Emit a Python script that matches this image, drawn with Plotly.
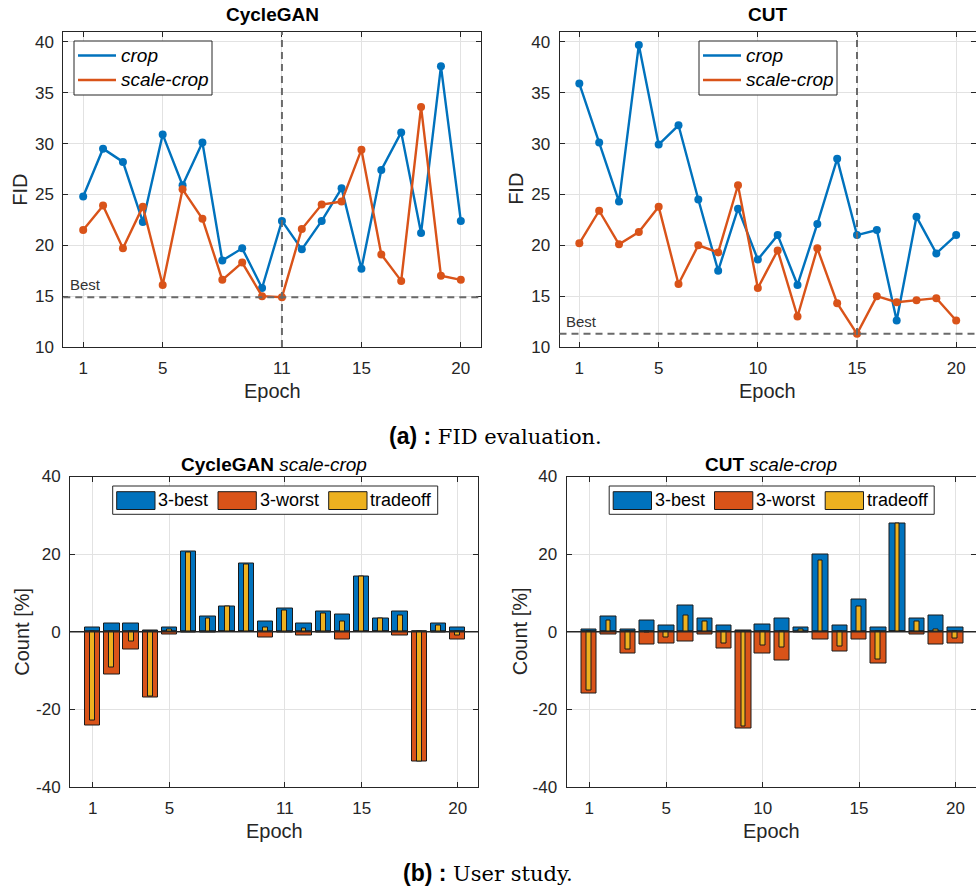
import plotly.graph_objects as go

# ---------------- data ----------------
epochs = list(range(1, 21))

cyclegan_crop = [24.8, 29.5, 28.2, 22.3, 30.9, 25.9, 30.1, 18.5, 19.7, 15.8,
                 22.4, 19.6, 22.4, 25.6, 17.7, 27.4, 31.1, 21.2, 37.6, 22.4]
cyclegan_scale_crop = [21.5, 23.9, 19.7, 23.8, 16.1, 25.5, 22.6, 16.6, 18.3, 15.0,
                       14.9, 21.6, 24.0, 24.3, 29.4, 19.1, 16.5, 33.6, 17.0, 16.6]

cut_crop = [35.9, 30.1, 24.3, 39.7, 29.9, 31.8, 24.5, 17.5, 23.6, 18.6,
            21.0, 16.1, 22.1, 28.5, 21.0, 21.5, 12.6, 22.8, 19.2, 21.0]
cut_scale_crop = [20.2, 23.4, 20.1, 21.3, 23.8, 16.2, 20.0, 19.3, 25.9, 15.8,
                  19.5, 13.0, 19.7, 14.3, 11.3, 15.0, 14.4, 14.6, 14.8, 12.6]

cg_best = [1.2, 2.0, 2.2, 0.4, 1.2, 20.6, 3.9, 6.5, 17.5, 2.7,
           6.0, 2.0, 5.2, 4.5, 14.2, 3.4, 5.2, 0.0, 2.0, 1.2]
cg_worst = [-24.1, -11.0, -4.7, -16.9, -0.6, -0.1, -0.3, 0.0, 0.0, -1.4,
            -0.3, -1.0, -0.3, -1.9, 0.0, 0.0, -1.0, -33.3, -0.3, -1.9]
cg_tradeoff = [-22.9, -9.1, -2.6, -16.6, 0.5, 20.5, 3.4, 6.4, 17.4, 1.2,
               5.6, 0.9, 4.8, 2.6, 14.2, 3.4, 4.2, -33.3, 1.6, -0.9]

cut_best = [0.7, 3.9, 0.7, 3.0, 1.5, 6.7, 3.4, 1.5, 0.4, 1.9,
            3.4, 1.2, 20.0, 1.5, 8.2, 1.1, 28.0, 3.4, 4.1, 1.2]
cut_worst = [-15.8, -0.6, -5.5, -3.3, -2.9, -2.5, -0.6, -4.4, -24.8, -5.5,
             -7.4, -0.3, -1.9, -5.2, -1.9, -8.1, 0.0, -0.6, -3.3, -2.9]
cut_tradeoff = [-15.1, 3.0, -4.7, -0.3, -1.4, 4.1, 2.7, -2.9, -24.4, -3.6,
                -4.0, 0.7, 18.3, -3.7, 6.4, -7.1, 28.0, 2.7, 0.7, -1.8]

cg_xticks = [1, 5, 11, 15, 20]
cut_xticks = [1, 5, 10, 15, 20]
fid_yticks = [10, 15, 20, 25, 30, 35, 40]
count_yticks = [-40, -20, 0, 20, 40]
count_yticklabels = ["-40", "-20", "0", "20", "40"]

line_names = ["crop", "scale-crop"]
bar_names = ["3-best", "3-worst", "tradeoff"]

# ---------------- style / layout ----------------
W, H = 976, 893
BLUE = "#0072BD"
ORANGE = "#D95319"
YELLOW = "#EDB120"
AXC = "#262626"
GRID = "#e2e2e2"
FONT = "Liberation Sans, Arial, sans-serif"

# axes boxes in pixels: (left, top, right, bottom)
BOX = {
    "tl": (63.3, 31.7, 480.7, 347.0),
    "tr": (559.5, 31.7, 976.0, 347.0),
    "bl": (70.0, 476.5, 478.3, 787.0),
    "br": (566.5, 476.5, 976.0, 787.0),
}


def px(x):
    return x / W


def py(y):
    return 1 - y / H


fig = go.Figure()


def add_lines(crop, scale, xa, ya):
    for vals, col in ((crop, BLUE), (scale, ORANGE)):
        fig.add_trace(go.Scatter(
            x=epochs, y=vals, mode="lines+markers",
            line=dict(color=col, width=2.4),
            marker=dict(color=col, size=8),
            xaxis=xa, yaxis=ya, showlegend=False, cliponaxis=False))


def add_bars(best, worst, trade, xa, ya):
    edge = dict(color="#1a1a1a", width=1)
    fig.add_trace(go.Bar(x=epochs, y=best, width=0.8, marker=dict(color=BLUE, line=edge),
                         xaxis=xa, yaxis=ya, showlegend=False))
    fig.add_trace(go.Bar(x=epochs, y=worst, width=0.8, marker=dict(color=ORANGE, line=edge),
                         xaxis=xa, yaxis=ya, showlegend=False))
    fig.add_trace(go.Bar(x=epochs, y=trade, width=0.25, marker=dict(color=YELLOW, line=edge),
                         xaxis=xa, yaxis=ya, showlegend=False))


add_lines(cyclegan_crop, cyclegan_scale_crop, "x", "y")
add_lines(cut_crop, cut_scale_crop, "x2", "y2")
add_bars(cg_best, cg_worst, cg_tradeoff, "x3", "y3")
add_bars(cut_best, cut_worst, cut_tradeoff, "x4", "y4")


def axis_common():
    return dict(showline=True, linecolor=AXC, linewidth=1, mirror="ticks",
                ticks="inside", ticklen=5, tickcolor=AXC, tickwidth=1,
                showgrid=True, gridcolor=GRID, gridwidth=1, zeroline=False,
                automargin=False,
                tickfont=dict(family=FONT, size=17, color=AXC), tickmode="array")


layout = dict(width=W, height=H, margin=dict(l=0, r=0, t=0, b=0, pad=0, autoexpand=False),
              paper_bgcolor="white", plot_bgcolor="white",
              barmode="overlay", bargap=0, showlegend=False,
              font=dict(family=FONT, color=AXC))

names = [("tl", "", cg_xticks, "fid"), ("tr", "2", cut_xticks, "fid"),
         ("bl", "3", cg_xticks, "count"), ("br", "4", cut_xticks, "count")]
for key, s, xt, kind in names:
    l, t, r, b = BOX[key]
    xa = axis_common()
    xa.update(domain=[px(l), px(r)], anchor="y" + s, tickvals=xt,
              ticklabelstandoff=6)
    ya = axis_common()
    ya.update(domain=[py(b), py(t)], anchor="x" + s, ticklabelstandoff=5)
    if kind == "fid":
        xa.update(range=[0, 21])
        ya.update(range=[10, 41], tickvals=fid_yticks)
    else:
        xa.update(range=[-0.18, 21.07])
        ya.update(range=[-40, 40], tickvals=count_yticks, ticktext=count_yticklabels)
    layout["xaxis" + s] = xa
    layout["yaxis" + s] = ya

fig.update_layout(**layout)

shapes = []
annotations = []

# best markers (dashed lines) for FID plots
for s, scale in (("", cyclegan_scale_crop), ("2", cut_scale_crop)):
    best_val = min(scale)
    best_ep = epochs[scale.index(best_val)]
    xr = "x" + s
    yr = "y" + s
    dash = dict(color="#6a6a6a", width=2, dash="7px,5px")
    shapes.append(dict(type="line", xref=xr, yref=yr + " domain", x0=best_ep, x1=best_ep,
                       y0=0, y1=1, line=dash, layer="above"))
    shapes.append(dict(type="line", xref=xr + " domain", yref=yr, x0=0, x1=1,
                       y0=best_val, y1=best_val, line=dash, layer="above"))
    annotations.append(dict(xref=xr + " domain", yref=yr, x=0.012, y=best_val, yshift=2,
                            xanchor="left", yanchor="bottom", showarrow=False, text="Best",
                            font=dict(family=FONT, size=15, color="#333333")))

# zero baselines for bar plots
for s in ("3", "4"):
    shapes.append(dict(type="line", xref="x" + s + " domain", yref="y" + s, x0=0, x1=1,
                       y0=0, y1=0, line=dict(color=AXC, width=1.3), layer="above"))


def title(key, text, y):
    l, t, r, b = BOX[key]
    annotations.append(dict(xref="paper", yref="paper", x=px((l + r) / 2), y=py(y),
                            xanchor="center", yanchor="middle", showarrow=False, text=text,
                            font=dict(family=FONT, size=19, color="#000000")))


title("tl", "<b>CycleGAN</b>", 15)
title("tr", "<b>CUT</b>", 15)
title("bl", "<b>CycleGAN</b> <i>scale-crop</i>", 464)
title("br", "<b>CUT</b> <i>scale-crop</i>", 464)

# axis titles
for key, ytxt, off in (("tl", "FID", 43), ("tr", "FID", 43),
                       ("bl", "Count [%]", 48), ("br", "Count [%]", 47)):
    l, t, r, b = BOX[key]
    annotations.append(dict(xref="paper", yref="paper", x=px((l + r) / 2), y=py(b + 44),
                            xanchor="center", yanchor="middle", showarrow=False, text="Epoch",
                            font=dict(family=FONT, size=20, color=AXC)))
    annotations.append(dict(xref="paper", yref="paper", x=px(l - off), y=py((t + b) / 2),
                            xanchor="center", yanchor="middle", showarrow=False, text=ytxt,
                            textangle=-90, font=dict(family=FONT, size=20, color=AXC)))

# line legends
for key, dx in (("tl", 10.7), ("tr", 139.5)):
    l, t, r, b = BOX[key]
    x0 = l + dx
    shapes.append(dict(type="rect", xref="paper", yref="paper", x0=px(x0), x1=px(x0 + 138),
                       y0=py(41), y1=py(95), line=dict(color=AXC, width=1),
                       fillcolor="white", layer="above"))
    for i, (nm, col) in enumerate(zip(line_names, (BLUE, ORANGE))):
        yy = 55.5 + i * 24.5
        shapes.append(dict(type="line", xref="paper", yref="paper", x0=px(x0 + 4),
                           x1=px(x0 + 42), y0=py(yy), y1=py(yy),
                           line=dict(color=col, width=2.4), layer="above"))
        annotations.append(dict(xref="paper", yref="paper", x=px(x0 + 45), y=py(yy),
                                xanchor="left", yanchor="middle", showarrow=False,
                                text="<i>" + nm + "</i>",
                                font=dict(family=FONT, size=19, color="#000000")))

# bar legends
for key in ("bl", "br"):
    l, t, r, b = BOX[key]
    x0 = l + 42.7
    shapes.append(dict(type="rect", xref="paper", yref="paper", x0=px(x0), x1=px(x0 + 325),
                       y0=py(486), y1=py(514.3), line=dict(color=AXC, width=1),
                       fillcolor="white", layer="above"))
    offs = [4, 105.3, 216]
    for nm, col, o in zip(bar_names, (BLUE, ORANGE, YELLOW), offs):
        shapes.append(dict(type="rect", xref="paper", yref="paper", x0=px(x0 + o),
                           x1=px(x0 + o + 38.3), y0=py(491.7), y1=py(509.5),
                           line=dict(color="#1a1a1a", width=1), fillcolor=col, layer="above"))
        annotations.append(dict(xref="paper", yref="paper", x=px(x0 + o + 39.5), y=py(500.5),
                                xanchor="left", yanchor="middle", showarrow=False, text=nm,
                                font=dict(family=FONT, size=18, color="#000000")))

# captions
cap_font = dict(family="DejaVu Serif, Liberation Serif, serif", size=21, color="#000000")
lab = ('<span style="font-family:Liberation Sans Narrow, Liberation Sans, sans-serif;'
       'font-size:23px"><b>{}</b></span> ')
annotations.append(dict(xref="paper", yref="paper", x=px(495), y=py(436), xanchor="center",
                        yanchor="middle", showarrow=False, font=cap_font,
                        text=lab.format("(a) :") + "FID evaluation."))
annotations.append(dict(xref="paper", yref="paper", x=px(488), y=py(873), xanchor="center",
                        yanchor="middle", showarrow=False, font=cap_font,
                        text=lab.format("(b) :") + "User study."))

fig.update_layout(shapes=shapes, annotations=annotations)
fig.write_html(
    "out.html",
    config={"displayModeBar": False},
    post_script="document.body.style.margin='0';"
                "document.documentElement.style.overflow='hidden';"
                "document.body.style.overflow='hidden';",
)
